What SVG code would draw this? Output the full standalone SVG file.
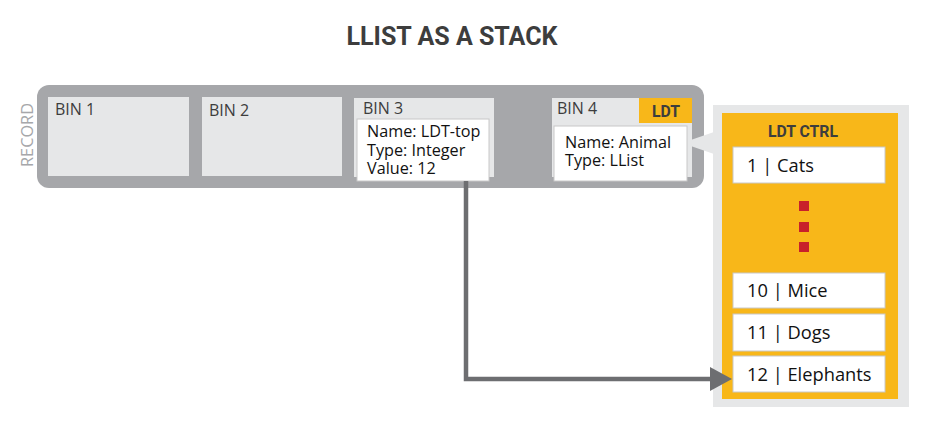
<svg xmlns="http://www.w3.org/2000/svg" width="928" height="442" viewBox="0 0 928 442">
<style>
.title{font-family:Roboto,"Liberation Sans",sans-serif;font-weight:700;font-size:25px;fill:#3d3d3d}
.cond{font-family:Roboto,"Liberation Sans",sans-serif;font-weight:700;fill:#3d3d3d}
.bin{fill:#e6e7e8}
.lbl{font-family:"Open Sans","DejaVu Sans",sans-serif;font-weight:500;font-size:16px;fill:#3d3d3d}
.txt{font-family:"Open Sans","DejaVu Sans",sans-serif;font-weight:500;font-size:16.2px;fill:#111}
.item{fill:#fff;stroke:#c8c8c8;stroke-width:1}
.itxt{font-family:"Open Sans","DejaVu Sans",sans-serif;font-weight:500;font-size:18.3px;fill:#111}
.box{fill:#fff;stroke:#c8c8c8;stroke-width:1}
.dot{fill:#c8202a}
</style>
<text class="title" x="452" y="45" text-anchor="middle" textLength="211" lengthAdjust="spacingAndGlyphs">LLIST AS A STACK</text>
<g id="record">
<rect x="37" y="85" width="667" height="103" rx="12" fill="#a6a7aa"/>
<text x="33" y="135" transform="rotate(-90 33 135)" text-anchor="middle" font-family="'Open Sans','DejaVu Sans',sans-serif" font-size="16" fill="#a6a7aa" textLength="64" lengthAdjust="spacingAndGlyphs">RECORD</text>
</g>
<g id="bin1">
<rect class="bin" x="48" y="97" width="141" height="79"/>
<text class="lbl" x="55" y="115">BIN 1</text>
</g>
<g id="bin2">
<rect class="bin" x="202" y="97" width="140" height="79"/>
<text class="lbl" x="209" y="116">BIN 2</text>
</g>
<g id="bin3">
<rect class="bin" x="354" y="98" width="140" height="79"/>
<text class="lbl" x="363" y="114">BIN 3</text>
<rect class="box" x="357" y="119" width="132" height="62"/>
<text class="txt" x="367" y="137">Name: LDT-top</text>
<text class="txt" x="367" y="156">Type: Integer</text>
<text class="txt" x="367" y="174">Value: 12</text>
</g>
<g id="ctrl">
<polygon points="682,143 714,132 714,154" fill="#e6e7e8"/>
<rect x="713" y="105" width="196" height="302" fill="#e6e7e8"/>
<rect x="722" y="113" width="176" height="286" fill="#f8b719"/>
<text class="cond" x="803" y="137" text-anchor="middle" font-size="16" textLength="70" lengthAdjust="spacingAndGlyphs">LDT CTRL</text>
</g>
<g id="bin4">
<rect class="bin" x="552" y="98" width="140" height="79"/>
<text class="lbl" x="557" y="114">BIN 4</text>
<rect x="639" y="98" width="53" height="25" fill="#f8b719"/>
<text class="cond" x="666" y="117" text-anchor="middle" font-size="16" textLength="28" lengthAdjust="spacingAndGlyphs">LDT</text>
<rect class="box" x="554" y="126" width="133" height="55"/>
<text class="txt" x="565" y="148">Name: Animal</text>
<text class="txt" x="565" y="166">Type: LList</text>
</g>
<g id="item1">
<rect class="item" x="733" y="147" width="152" height="36"/>
<text class="itxt" x="747" y="172">1 | Cats</text>
</g>
<g id="dots">
<rect class="dot" x="799" y="201" width="10" height="10"/>
<rect class="dot" x="799" y="222" width="10" height="10"/>
<rect class="dot" x="799" y="242" width="10" height="10"/>
</g>
<g id="item10">
<rect class="item" x="733" y="273" width="152" height="35"/>
<text class="itxt" x="747" y="297">10 | Mice</text>
</g>
<g id="item11">
<rect class="item" x="733" y="314" width="152" height="37"/>
<text class="itxt" x="747" y="339">11 | Dogs</text>
</g>
<g id="item12">
<rect class="item" x="733" y="356" width="152" height="36"/>
<text class="itxt" x="747" y="381">12 | Elephants</text>
</g>
<g id="connectors">
<path d="M466,181 V379 H710" fill="none" stroke="#6d6e71" stroke-width="4.5"/>
<polygon points="710,367 732,379 710,391" fill="#6d6e71"/>
</g>
</svg>
